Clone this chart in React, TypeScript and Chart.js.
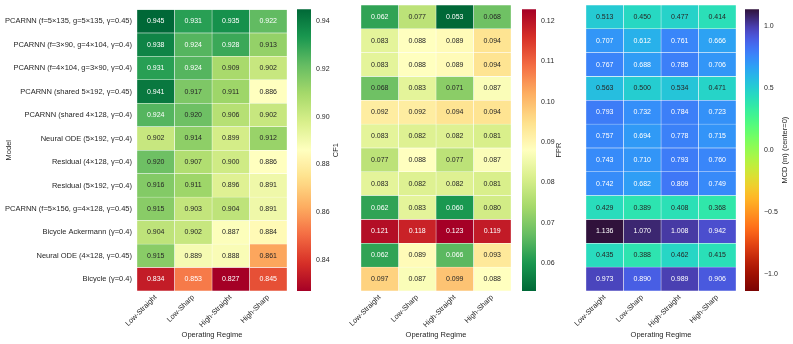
import React, { useEffect, useRef } from "react";
import { Chart, registerables } from "chart.js";
Chart.register(...registerables);

const MODELS = [
  "PCARNN (f=5×135, g=5×135, γ=0.45)",
  "PCARNN (f=3×90, g=4×104, γ=0.4)",
  "PCARNN (f=4×104, g=3×90, γ=0.4)",
  "PCARNN (shared 5×192, γ=0.45)",
  "PCARNN (shared 4×128, γ=0.4)",
  "Neural ODE (5×192, γ=0.4)",
  "Residual (4×128, γ=0.4)",
  "Residual (5×192, γ=0.4)",
  "PCARNN (f=5×156, g=4×128, γ=0.45)",
  "Bicycle Ackermann (γ=0.4)",
  "Neural ODE (4×128, γ=0.45)",
  "Bicycle (γ=0.4)",
];
const REGIMES = ["Low-Straight", "Low-Sharp", "High-Straight", "High-Sharp"];

const CF1 = [
  [0.945, 0.931, 0.935, 0.922],
  [0.938, 0.924, 0.928, 0.913],
  [0.931, 0.924, 0.909, 0.902],
  [0.941, 0.917, 0.911, 0.886],
  [0.924, 0.92, 0.906, 0.902],
  [0.902, 0.914, 0.899, 0.912],
  [0.92, 0.907, 0.9, 0.886],
  [0.916, 0.911, 0.896, 0.891],
  [0.915, 0.903, 0.904, 0.891],
  [0.904, 0.902, 0.887, 0.884],
  [0.915, 0.889, 0.888, 0.861],
  [0.834, 0.853, 0.827, 0.845],
];
const FPR = [
  [0.062, 0.077, 0.053, 0.068],
  [0.083, 0.088, 0.089, 0.094],
  [0.083, 0.088, 0.089, 0.094],
  [0.068, 0.083, 0.071, 0.087],
  [0.092, 0.092, 0.094, 0.094],
  [0.083, 0.082, 0.082, 0.081],
  [0.077, 0.088, 0.077, 0.087],
  [0.083, 0.082, 0.082, 0.081],
  [0.062, 0.083, 0.06, 0.08],
  [0.121, 0.118, 0.123, 0.119],
  [0.062, 0.089, 0.066, 0.093],
  [0.097, 0.087, 0.099, 0.088],
];
const MCD = [
  [0.513, 0.45, 0.477, 0.414],
  [0.707, 0.612, 0.761, 0.666],
  [0.767, 0.688, 0.785, 0.706],
  [0.563, 0.5, 0.534, 0.471],
  [0.793, 0.732, 0.784, 0.723],
  [0.757, 0.694, 0.778, 0.715],
  [0.743, 0.71, 0.793, 0.76],
  [0.742, 0.682, 0.809, 0.749],
  [0.429, 0.389, 0.408, 0.368],
  [1.136, 1.07, 1.008, 0.942],
  [0.435, 0.388, 0.462, 0.415],
  [0.973, 0.89, 0.989, 0.906],
];

const CF1_TICKS = [0.84, 0.86, 0.88, 0.9, 0.92, 0.94];
const FPR_TICKS = [0.06, 0.07, 0.08, 0.09, 0.1, 0.11, 0.12];
const MCD_TICKS = [-1.0, -0.5, 0.0, 0.5, 1.0];

const FONT = "'Liberation Sans', Arial, sans-serif";
const TXT = "#262626";

const RDYLGN = ["#a50026", "#d73027", "#f46d43", "#fdae61", "#fee08b", "#ffffbf", "#d9ef8b", "#a6d96a", "#66bd63", "#1a9850", "#006837"];

type RGB = [number, number, number];
const hex = (h: string): RGB => [parseInt(h.slice(1, 3), 16), parseInt(h.slice(3, 5), 16), parseInt(h.slice(5, 7), 16)];
const clamp = (t: number) => Math.max(0, Math.min(1, t));
const lerp = (a: RGB, b: RGB, f: number): RGB => [a[0] + (b[0] - a[0]) * f, a[1] + (b[1] - a[1]) * f, a[2] + (b[2] - a[2]) * f];
function rdylgn(t: number): RGB {
  t = clamp(t);
  const n = RDYLGN.length - 1;
  const p = t * n;
  const i = Math.min(Math.floor(p), n - 1);
  return lerp(hex(RDYLGN[i]), hex(RDYLGN[i + 1]), p - i);
}
function turboPoly(x: number): RGB {
  const r = 0.13572138 + x * (4.6153926 + x * (-42.66032258 + x * (132.13108234 + x * (-152.94239396 + x * 59.28637943))));
  const g = 0.09140261 + x * (2.19418839 + x * (4.84296658 + x * (-14.18503333 + x * (4.27729857 + x * 2.82956604))));
  const b = 0.1066733 + x * (12.64194608 + x * (-60.58204836 + x * (110.36276771 + x * (-89.90310912 + x * 27.34824973))));
  return [clamp(r) * 255, clamp(g) * 255, clamp(b) * 255];
}
const TURBO_LO: RGB = [48, 18, 59];
const TURBO_HI: RGB = [122, 4, 3];
function turbo(x: number): RGB {
  x = clamp(x);
  const e = 0.06;
  if (x < e) return lerp(TURBO_LO, turboPoly(e), x / e);
  if (x > 1 - e) return lerp(turboPoly(1 - e), TURBO_HI, (x - (1 - e)) / e);
  return turboPoly(x);
}
const rgbStr = (c: RGB) => `rgb(${Math.round(c[0])},${Math.round(c[1])},${Math.round(c[2])})`;
function textColor(c: RGB) {
  const f = (v: number) => {
    v /= 255;
    return v <= 0.03928 ? v / 12.92 : Math.pow((v + 0.055) / 1.055, 2.4);
  };
  const l = 0.2126 * f(c[0]) + 0.7152 * f(c[1]) + 0.0722 * f(c[2]);
  return l > 0.408 ? TXT : "#ffffff";
}

const flat = (a: number[][]) => a.reduce((s, r) => s.concat(r), [] as number[]);
const mcdAbs = Math.max(...flat(MCD).map(Math.abs));

type PanelSpec = {
  values: number[][];
  vmin: number;
  vmax: number;
  cmap: (t: number) => RGB;
  ticks: number[];
  fmt: (v: number) => string;
  label: string;
  hmLeft: number;
  hmWidth: number;
  yWidth: number;
  showY: boolean;
  cbLeft: number;
  cbAxisW: number;
  cbLabelX: number;
};

const PANELS: PanelSpec[] = [
  {
    values: CF1, vmin: Math.min(...flat(CF1)), vmax: Math.max(...flat(CF1)),
    cmap: (t) => rdylgn(t), ticks: CF1_TICKS, fmt: (v) => v.toFixed(2), label: "CF1",
    hmLeft: 0, hmWidth: 290, yWidth: 137, showY: true, cbLeft: 297, cbAxisW: 34, cbLabelX: 38.5,
  },
  {
    values: FPR, vmin: Math.min(...flat(FPR)), vmax: Math.max(...flat(FPR)),
    cmap: (t) => rdylgn(1 - t), ticks: FPR_TICKS, fmt: (v) => v.toFixed(2), label: "FPR",
    hmLeft: 340, hmWidth: 174, yWidth: 21, showY: false, cbLeft: 522, cbAxisW: 31, cbLabelX: 37,
  },
  {
    values: MCD, vmin: -mcdAbs, vmax: mcdAbs,
    cmap: (t) => turbo(1 - t), ticks: MCD_TICKS, fmt: (v) => v.toFixed(1).replace("-", "\u2212"), label: "MCD (m) (center=0)",
    hmLeft: 562, hmWidth: 177, yWidth: 24, showY: false, cbLeft: 745, cbAxisW: 34, cbLabelX: 40,
  },
];

const H = 344;
const TOP = 5;
const XAXIS_H = 53;

function heatmapConfig(p: PanelSpec): any {
  const norm = (v: number) => (v - p.vmin) / (p.vmax - p.vmin);
  const datasets = REGIMES.map((r, j) => ({
    label: r,
    data: MODELS.map(() => [j, j + 1]),
    backgroundColor: MODELS.map((_, i) => rgbStr(p.cmap(norm(p.values[i][j])))),
    borderColor: "#ffffff",
    borderWidth: 0.5,
    borderSkipped: false,
    barPercentage: 1,
    categoryPercentage: 1,
    grouped: false,
  }));
  const cellText = {
    id: "cellText",
    afterDatasetsDraw(chart: any) {
      const ctx = chart.ctx;
      ctx.save();
      ctx.font = `7px ${FONT}`;
      ctx.textAlign = "center";
      ctx.textBaseline = "middle";
      chart.data.datasets.forEach((_: any, j: number) => {
        const meta = chart.getDatasetMeta(j);
        meta.data.forEach((el: any, i: number) => {
          const v = p.values[i][j];
          ctx.fillStyle = textColor(p.cmap(norm(v)));
          ctx.fillText(v.toFixed(3), (el.x + el.base) / 2, el.y);
        });
      });
      ctx.restore();
    },
  };
  return {
    type: "bar",
    data: { labels: MODELS, datasets },
    options: {
      indexAxis: "y",
      animation: false,
      responsive: false,
      maintainAspectRatio: false,
      layout: { padding: { top: TOP, right: 3, left: 0, bottom: 0 } },
      plugins: { legend: { display: false }, tooltip: { enabled: false } },
      scales: {
        x: {
          type: "linear",
          min: 0,
          max: REGIMES.length,
          afterBuildTicks: (axis: any) => {
            axis.ticks = REGIMES.map((_, j) => ({ value: j + 0.5 }));
          },
          afterFit: (axis: any) => {
            axis.height = XAXIS_H;
          },
          ticks: {
            autoSkip: false,
            minRotation: 45,
            maxRotation: 45,
            padding: 2,
            font: { size: 7.3, family: FONT },
            color: TXT,
            callback: (_v: any, idx: number) => REGIMES[idx],
          },
          grid: { display: false, drawTicks: false },
          border: { display: false },
          title: {
            display: true,
            text: "Operating Regime",
            font: { size: 7.5, family: FONT },
            color: TXT,
            padding: { top: 0, bottom: 5 },
          },
        },
        y: {
          type: "category",
          afterFit: (axis: any) => {
            axis.width = p.yWidth;
          },
          ticks: {
            display: p.showY,
            autoSkip: false,
            padding: 5,
            font: { size: 7.5, family: FONT },
            color: TXT,
          },
          grid: { display: false, drawTicks: false },
          border: { display: false },
          title: {
            display: p.showY,
            text: "Model",
            font: { size: 7.5, family: FONT },
            color: TXT,
            padding: { top: 4, bottom: 0 },
          },
        },
      },
    },
    plugins: [cellText],
  };
}

function colorbarConfig(p: PanelSpec): any {
  const titlePlugin = {
    id: "cbTitle",
    afterDraw(chart: any) {
      const { ctx, chartArea } = chart;
      ctx.save();
      ctx.translate(p.cbLabelX, (chartArea.top + chartArea.bottom) / 2);
      ctx.rotate(-Math.PI / 2);
      ctx.font = `7.5px ${FONT}`;
      ctx.fillStyle = TXT;
      ctx.textAlign = "center";
      ctx.textBaseline = "middle";
      ctx.fillText(p.label, 0, 0);
      ctx.restore();
    },
  };
  return {
    type: "bar",
    data: {
      labels: [p.label],
      datasets: [
        {
          data: [[p.vmin, p.vmax]],
          backgroundColor: (c: any) => {
            const area = c.chart.chartArea;
            if (!area) return "rgba(0,0,0,0)";
            const g = c.chart.ctx.createLinearGradient(0, area.bottom, 0, area.top);
            const N = 64;
            for (let k = 0; k <= N; k++) g.addColorStop(k / N, rgbStr(p.cmap(k / N)));
            return g;
          },
          borderWidth: 0,
          barPercentage: 1,
          categoryPercentage: 1,
        },
      ],
    },
    options: {
      animation: false,
      responsive: false,
      maintainAspectRatio: false,
      layout: { padding: { top: TOP, bottom: XAXIS_H, left: 0, right: 0 } },
      plugins: { legend: { display: false }, tooltip: { enabled: false } },
      scales: {
        x: { display: false },
        y: {
          position: "right",
          min: p.vmin,
          max: p.vmax,
          afterBuildTicks: (axis: any) => {
            axis.ticks = p.ticks.map((v) => ({ value: v }));
          },
          afterFit: (axis: any) => {
            axis.width = p.cbAxisW;
          },
          ticks: {
            padding: 5,
            font: { size: 7, family: FONT },
            color: TXT,
            callback: (v: any) => p.fmt(Number(v)),
          },
          grid: { display: false, drawTicks: false },
          border: { display: false },
        },
      },
    },
    plugins: [titlePlugin],
  };
}

function ChartCanvas({ left, width, make }: { left: number; width: number; make: () => any }) {
  const ref = useRef<HTMLCanvasElement | null>(null);
  useEffect(() => {
    if (!ref.current) return;
    const c = new Chart(ref.current, make());
    return () => c.destroy();
  }, []);
  return (
    <canvas
      ref={ref}
      width={width}
      height={H}
      style={{ position: "absolute", left, top: 0, width, height: H }}
    />
  );
}

export default function App() {
  return (
    <div style={{ position: "absolute", left: 0, top: 0, width: 793, height: H, background: "#ffffff", overflow: "hidden" }}>
      {PANELS.map((p, k) => (
        <React.Fragment key={k}>
          <ChartCanvas left={p.hmLeft} width={p.hmWidth} make={() => heatmapConfig(p)} />
          <ChartCanvas left={p.cbLeft} width={14 + p.cbAxisW} make={() => colorbarConfig(p)} />
        </React.Fragment>
      ))}
    </div>
  );
}
